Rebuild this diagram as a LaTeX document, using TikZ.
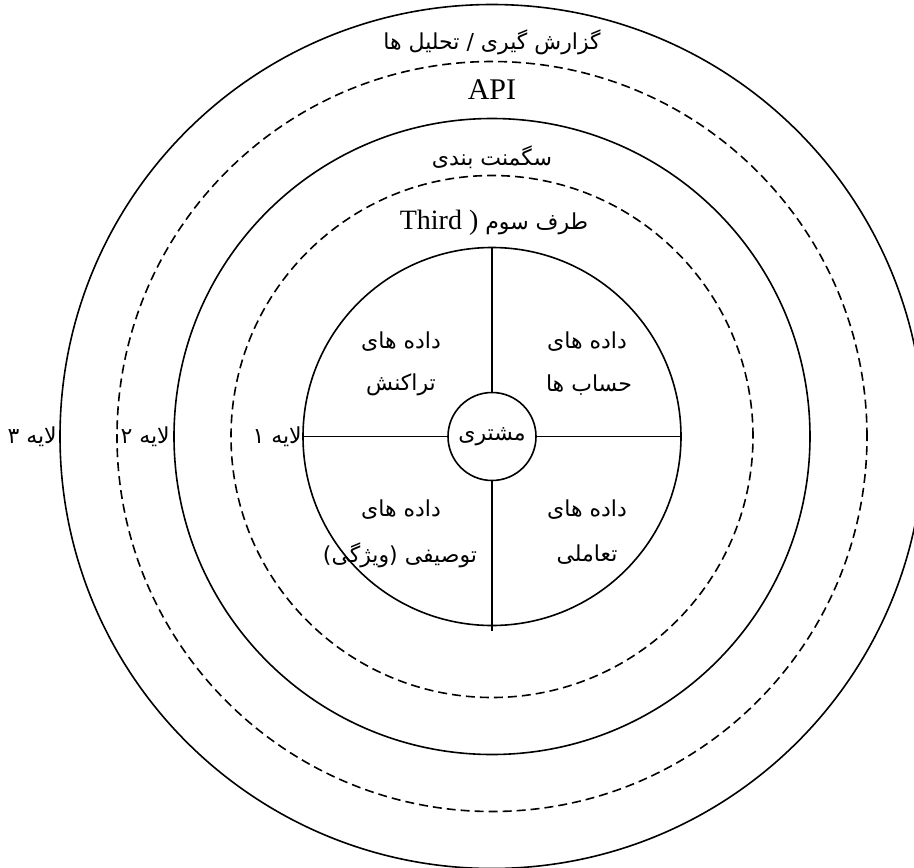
\documentclass[tikz,border=0pt]{standalone}
\usepackage{fontspec}
\setmainfont{Liberation Serif}
\newfontfamily\fa[Script=Arabic]{DejaVu Sans}
\TeXXeTstate=1
\begin{document}
\begin{tikzpicture}[x=1pt,y=-1pt,
  ring/.style={circle,draw,line width=1.6pt,inner sep=0pt,outer sep=0pt},
  dring/.style={ring,dash pattern=on 9pt off 5pt},
  fatext/.style={font=\fa\fontsize{22}{24}\selectfont,inner sep=0pt},
  entext/.style={font=\fontsize{30}{32}\selectfont,inner sep=0pt},
  seg/.style={line width=1.6pt}]
\useasboundingbox (0,0) rectangle (914,868);
\clip (0,0) rectangle (914,868);
\node[ring,minimum size=864pt] (c5) at (492,436.5) {};
\node[dring,minimum size=750pt] (c4) at (492,436.5) {};
\node[ring,minimum size=636pt] (c3) at (492,436.5) {};
\node[dring,minimum size=522pt] (c2) at (492,436.5) {};
\node[ring,minimum size=378pt] (c1) at (492,436.5) {};
\node[ring,minimum size=88pt,fatext] (core) at (492,436.5) {\beginR مشتری\endR};
\coordinate (vb) at (492,631);
\draw[seg] (c1.north) -- (core.north);
\draw[seg] (core.south) -- (vb);
\draw[seg] (c1.west) -- (core.west);
\draw[seg] (core.east) -- (c1.east);
% ring texts
\node[fatext] (t1) at (492,42) {\beginR گزارش گیری / تحلیل ها\endR};
\node[entext] (t2) at (492,90) {API};
\node[fatext] (t3) at (492,157) {\beginR سگمنت بندی\endR};
\node[fatext] (t4) at (494,223) {{\rmfamily\fontsize{28}{30}\selectfont Third )} \beginR طرف سوم\endR};
% quadrants
\node[fatext] (q1a) at (401,342) {\beginR داده های\endR};
\node[fatext] (q1b) at (401,385) {\beginR تراکنش\endR};
\node[fatext] (q2a) at (587,342) {\beginR داده های\endR};
\node[fatext] (q2b) at (589,385) {\beginR حساب ها\endR};
\node[fatext] (q3a) at (401,510) {\beginR داده های\endR};
\node[fatext] (q3b) at (400,555) {\beginR توصیفی (ویژگی)\endR};
\node[fatext] (q4a) at (587,510) {\beginR داده های\endR};
\node[fatext] (q4b) at (587,555) {\beginR تعاملی\endR};
% layer labels
\node[fatext,anchor=east] (l3) at (57,437) {\beginR لایه ۳\endR};
\node[fatext,anchor=east] (l2) at (170,437) {\beginR لایه ۲\endR};
\node[fatext,anchor=east] (l1) at (302,437) {\beginR لایه ۱\endR};
\end{tikzpicture}
\end{document}
